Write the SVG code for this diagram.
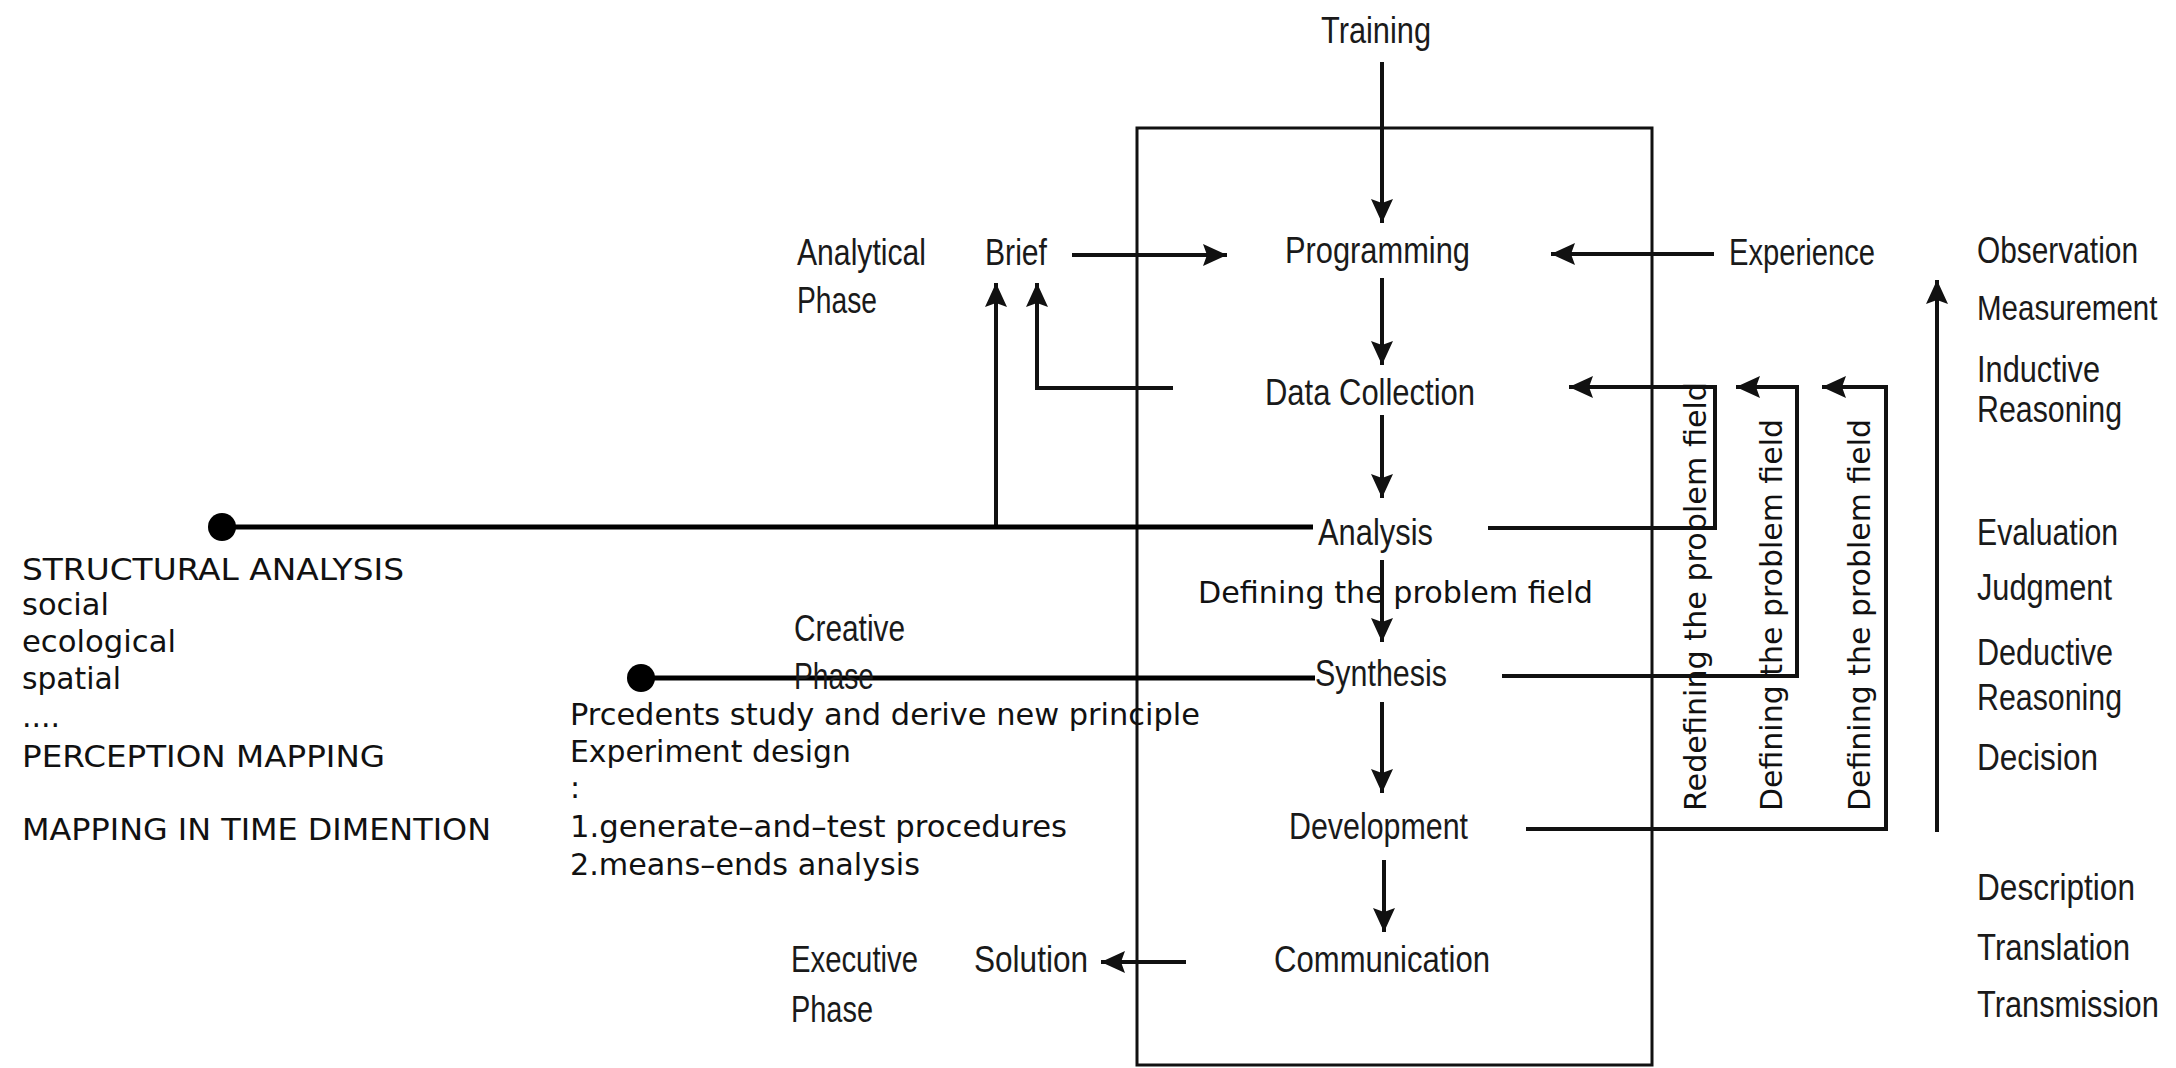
<svg xmlns="http://www.w3.org/2000/svg" width="2176" height="1068" viewBox="0 0 2176 1068">
<style>
.c{font-family:"Liberation Sans",Arial,sans-serif;font-size:36px;fill:#1a1a1a}
.w{font-family:"DejaVu Sans","Liberation Sans",sans-serif;font-size:30px;fill:#111}
.ln{fill:none;stroke:#111;stroke-width:4;stroke-linejoin:miter}
.thin{fill:none;stroke:#111;stroke-width:3}
.thick{fill:none;stroke:#000;stroke-width:5}
</style>
<defs>
<marker id="ah" markerUnits="userSpaceOnUse" markerWidth="26" markerHeight="24" refX="24" refY="11" orient="auto">
<path d="M0,0 L24,11 L0,22 L4,11 z" fill="#111"/>
</marker>
</defs>
<rect width="2176" height="1068" fill="#fff"/>

<g id="frame"><rect x="1137" y="128" width="515" height="937" class="thin"/></g>

<g id="connectors">
<line class="ln" x1="1382" y1="62" x2="1382" y2="223" marker-end="url(#ah)"/>
<line class="ln" x1="1072" y1="255" x2="1227" y2="255" marker-end="url(#ah)"/>
<line class="ln" x1="1714" y1="254" x2="1551" y2="254" marker-end="url(#ah)"/>
<line class="ln" x1="1382" y1="278" x2="1382" y2="365" marker-end="url(#ah)"/>
<line class="ln" x1="1382" y1="415" x2="1382" y2="498" marker-end="url(#ah)"/>
<line class="ln" x1="1382" y1="560" x2="1382" y2="642" marker-end="url(#ah)"/>
<line class="ln" x1="1382" y1="702" x2="1382" y2="793" marker-end="url(#ah)"/>
<line class="ln" x1="1384" y1="860" x2="1384" y2="932" marker-end="url(#ah)"/>
<line class="ln" x1="1186" y1="962" x2="1101" y2="962" marker-end="url(#ah)"/>
<polyline class="ln" points="1173,388 1037,388 1037,283" marker-end="url(#ah)"/>
<line class="ln" x1="996" y1="527" x2="996" y2="283" marker-end="url(#ah)"/>
<line class="thick" x1="222" y1="527" x2="1313" y2="527"/>
<circle cx="222" cy="527" r="14" fill="#000"/>
<line class="thick" x1="641" y1="678" x2="1315" y2="678"/>
<circle cx="641" cy="678" r="14" fill="#000"/>
<polyline class="ln" points="1488,528 1715,528 1715,387 1569,387" marker-end="url(#ah)"/>
<polyline class="ln" points="1502,676 1797,676 1797,387 1736,387" marker-end="url(#ah)"/>
<polyline class="ln" points="1526,829 1886,829 1886,387 1822,387" marker-end="url(#ah)"/>
<line class="ln" x1="1937" y1="832" x2="1937" y2="280" marker-end="url(#ah)"/>
</g>

<g id="training"><text class="c" x="1321" y="43" textLength="110" lengthAdjust="spacingAndGlyphs">Training</text></g>
<g id="programming"><text class="c" x="1285" y="263" textLength="185" lengthAdjust="spacingAndGlyphs">Programming</text></g>
<g id="data-collection"><text class="c" x="1265" y="405" textLength="210" lengthAdjust="spacingAndGlyphs">Data Collection</text></g>
<g id="analysis"><text class="c" x="1318" y="545" textLength="115" lengthAdjust="spacingAndGlyphs">Analysis</text></g>
<g id="synthesis"><text class="c" x="1315" y="686" textLength="132" lengthAdjust="spacingAndGlyphs">Synthesis</text></g>
<g id="development"><text class="c" x="1289" y="839" textLength="179" lengthAdjust="spacingAndGlyphs">Development</text></g>
<g id="communication"><text class="c" x="1274" y="972" textLength="216" lengthAdjust="spacingAndGlyphs">Communication</text></g>

<g id="analytical-phase">
<text class="c" x="797" y="265" textLength="129" lengthAdjust="spacingAndGlyphs">Analytical</text>
<text class="c" x="797" y="313" textLength="80" lengthAdjust="spacingAndGlyphs">Phase</text>
</g>
<g id="brief"><text class="c" x="985" y="265" textLength="62" lengthAdjust="spacingAndGlyphs">Brief</text></g>
<g id="experience"><text class="c" x="1729" y="265" textLength="146" lengthAdjust="spacingAndGlyphs">Experience</text></g>
<g id="creative-phase">
<text class="c" x="794" y="641" textLength="111" lengthAdjust="spacingAndGlyphs">Creative</text>
<text class="c" x="794" y="689" textLength="80" lengthAdjust="spacingAndGlyphs">Phase</text>
</g>
<g id="executive-phase">
<text class="c" x="791" y="972" textLength="127" lengthAdjust="spacingAndGlyphs">Executive</text>
<text class="c" x="791" y="1022" textLength="82" lengthAdjust="spacingAndGlyphs">Phase</text>
</g>
<g id="solution"><text class="c" x="974" y="972" textLength="114" lengthAdjust="spacingAndGlyphs">Solution</text></g>

<g id="right-column">
<text class="c" x="1977" y="263" textLength="161" lengthAdjust="spacingAndGlyphs">Observation</text>
<text class="c" transform="translate(1977,320) scale(0.82,1)">Measurement</text>
<text class="c" x="1977" y="382" textLength="123" lengthAdjust="spacingAndGlyphs">Inductive</text>
<text class="c" x="1977" y="422" textLength="145" lengthAdjust="spacingAndGlyphs">Reasoning</text>
<text class="c" x="1977" y="545" textLength="141" lengthAdjust="spacingAndGlyphs">Evaluation</text>
<text class="c" x="1977" y="600" textLength="135" lengthAdjust="spacingAndGlyphs">Judgment</text>
<text class="c" x="1977" y="665" textLength="136" lengthAdjust="spacingAndGlyphs">Deductive</text>
<text class="c" x="1977" y="710" textLength="145" lengthAdjust="spacingAndGlyphs">Reasoning</text>
<text class="c" x="1977" y="770" textLength="121" lengthAdjust="spacingAndGlyphs">Decision</text>
<text class="c" x="1977" y="900" textLength="158" lengthAdjust="spacingAndGlyphs">Description</text>
<text class="c" x="1977" y="960" textLength="153" lengthAdjust="spacingAndGlyphs">Translation</text>
<text class="c" transform="translate(1977,1017) scale(0.855,1)">Transmission</text>
</g>

<g id="defining-label"><text class="w" x="1198" y="603" textLength="395" lengthAdjust="spacingAndGlyphs">Defining the problem field</text></g>
<g id="loop-labels">
<text class="w" transform="translate(1706,811) rotate(-90)" textLength="429" lengthAdjust="spacingAndGlyphs">Redefining the problem field</text>
<text class="w" transform="translate(1782,811) rotate(-90)" textLength="392" lengthAdjust="spacingAndGlyphs">Defining the problem field</text>
<text class="w" transform="translate(1870,811) rotate(-90)" textLength="392" lengthAdjust="spacingAndGlyphs">Defining the problem field</text>
</g>

<g id="structural-analysis">
<text class="w" x="22" y="580" textLength="382" lengthAdjust="spacingAndGlyphs">STRUCTURAL ANALYSIS</text>
<text class="w" x="22" y="615" textLength="87" lengthAdjust="spacingAndGlyphs">social</text>
<text class="w" x="22" y="652" textLength="154" lengthAdjust="spacingAndGlyphs">ecological</text>
<text class="w" x="22" y="689" textLength="99" lengthAdjust="spacingAndGlyphs">spatial</text>
<text class="w" x="22" y="727">....</text>
<text class="w" x="22" y="767" textLength="363" lengthAdjust="spacingAndGlyphs">PERCEPTION MAPPING</text>
<text class="w" x="22" y="840" textLength="469" lengthAdjust="spacingAndGlyphs">MAPPING IN TIME DIMENTION</text>
</g>

<g id="creative-methods">
<text class="w" x="570" y="725" textLength="630" lengthAdjust="spacingAndGlyphs">Prcedents study and derive new principle</text>
<text class="w" x="570" y="762" textLength="281" lengthAdjust="spacingAndGlyphs">Experiment design</text>
<text class="w" x="570" y="798">:</text>
<text class="w" x="570" y="837" textLength="497" lengthAdjust="spacingAndGlyphs">1.generate–and–test procedures</text>
<text class="w" x="570" y="875" textLength="350" lengthAdjust="spacingAndGlyphs">2.means–ends analysis</text>
</g>
</svg>
